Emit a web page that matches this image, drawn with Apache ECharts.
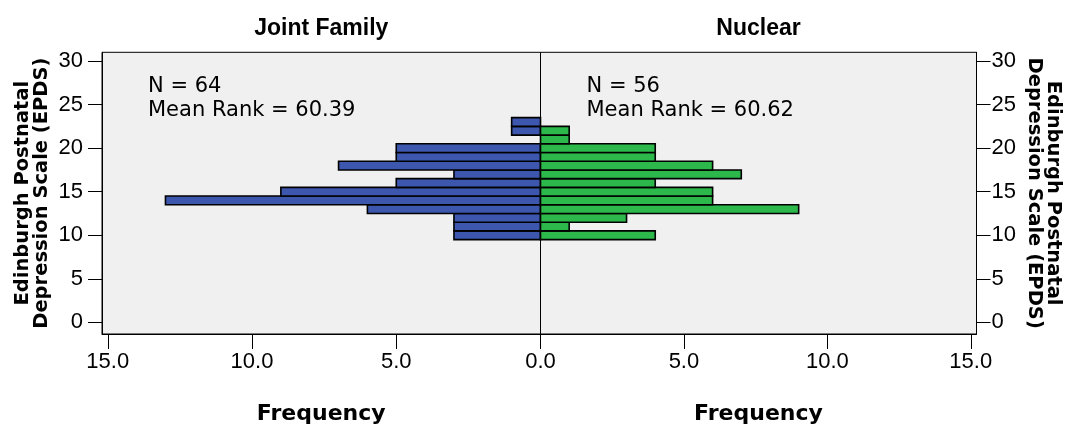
<!DOCTYPE html>
<html>
<head>
<meta charset="utf-8">
<script src="https://cdn.jsdelivr.net/npm/echarts@6/dist/echarts.min.js"></script>
<style>
  html, body { margin: 0; padding: 0; background: #ffffff; }
  #chart { width: 1065px; height: 430px; }
</style>
</head>
<body>
<div id="chart"></div>
<script>
// EPDS score categories (bar centres)
const scores = [10, 11, 12, 13, 14, 15, 16, 17, 18, 19, 20, 21, 22, 23];
// Frequencies per score
const jointFamily = [3, 3, 3, 6, 13, 9, 5, 3, 7, 5, 5, 0, 1, 1];
const nuclear     = [4, 1, 3, 9, 6, 6, 4, 7, 6, 4, 4, 1, 1, 0];
// Tick values
const yTicks = [0, 5, 10, 15, 20, 25, 30];
const xTicksLeft = [0, 5, 10, 15];
const xTicksRight = [5, 10, 15];
const groupTitles = ['Joint Family', 'Nuclear'];
const notesLeft = ['N = 64', 'Mean Rank = 60.39'];
const notesRight = ['N = 56', 'Mean Rank = 60.62'];
const yName = 'Edinburgh Postnatal\nDepression Scale (EPDS)';
const xName = 'Frequency';

const chart = echarts.init(document.getElementById('chart'), null, { renderer: 'canvas' });

const GL = 102, GM = 540.5, GR = 976.5, GT = 52.3, GB = 334.3;

function barRenderer(color) {
  return function (params, api) {
    const c = api.value(0), s = api.value(1);
    if (!c) return null;
    const p0 = api.coord([0, s + 0.5]);
    const p1 = api.coord([c, s - 0.5]);
    return {
      type: 'rect',
      shape: {
        x: Math.min(p0[0], p1[0]),
        y: Math.min(p0[1], p1[1]),
        width: Math.abs(p1[0] - p0[0]),
        height: Math.abs(p1[1] - p0[1])
      },
      style: { fill: color, stroke: '#000', lineWidth: 1.6 }
    };
  };
}

const tickFont = { fontFamily: 'Liberation Sans', fontSize: 22, color: '#000' };
const fmt1 = v => Number(v).toFixed(1);

function xAxisCfg(gridIndex, inverse, ticks) {
  return {
    type: 'value', gridIndex: gridIndex, inverse: inverse, min: 0, max: 15.2,
    position: 'bottom',
    splitLine: { show: false },
    axisLine: { show: true, onZero: false, lineStyle: { color: '#000', width: 1 } },
    axisTick: { show: true, inside: false, length: 15, customValues: ticks, lineStyle: { color: '#000', width: 1 } },
    axisLabel: Object.assign({ margin: 17, customValues: ticks, formatter: fmt1 }, tickFont),
    name: xName, nameLocation: 'middle', nameGap: 80,
    nameTextStyle: { fontFamily: 'DejaVu Sans', fontWeight: 'bold', fontSize: 22, color: '#000', verticalAlign: 'middle' }
  };
}

function yAxisCfg(gridIndex, pos, margin, rot, gap) {
  return {
    type: 'value', gridIndex: gridIndex, position: pos, min: -1.33, max: 31,
    splitLine: { show: false },
    axisLine: { show: true, onZero: false, lineStyle: { color: '#000', width: 1 } },
    axisTick: { show: true, inside: false, length: 14, customValues: yTicks, lineStyle: { color: '#000', width: 1 } },
    axisLabel: Object.assign({ margin: margin, customValues: yTicks }, tickFont),
    name: yName, nameLocation: 'middle', nameGap: gap, nameRotate: rot,
    nameTextStyle: { fontFamily: 'DejaVu Sans', fontWeight: 'bold', fontSize: 19.5, lineHeight: 19, color: '#000', verticalAlign: 'middle', align: 'center' }
  };
}

const option = {
  backgroundColor: '#ffffff',
  animation: false,
  grid: [
    { left: GL, top: GT, width: GM - GL, height: GB - GT, show: true, backgroundColor: '#f0f0f0', borderColor: '#000', borderWidth: 1 },
    { left: GM, top: GT, width: GR - GM, height: GB - GT, show: true, backgroundColor: '#f0f0f0', borderColor: '#000', borderWidth: 1 }
  ],
  xAxis: [
    xAxisCfg(0, true, xTicksLeft),
    xAxisCfg(1, false, xTicksRight)
  ],
  yAxis: [
    yAxisCfg(0, 'left', 19, 90, 70),
    yAxisCfg(1, 'right', 15, -90, 67)
  ],
  series: [
    {
      type: 'custom', name: groupTitles[0], xAxisIndex: 0, yAxisIndex: 0,
      data: scores.map((s, i) => [jointFamily[i], s]),
      encode: { x: 0, y: 1 },
      renderItem: barRenderer('#3c57ad')
    },
    {
      type: 'custom', name: groupTitles[1], xAxisIndex: 1, yAxisIndex: 1,
      data: scores.map((s, i) => [nuclear[i], s]),
      encode: { x: 0, y: 1 },
      renderItem: barRenderer('#2cb84a')
    }
  ],
  graphic: [
    { type: 'text', x: (GL + GM) / 2, y: 29, style: { text: groupTitles[0], fontFamily: 'Liberation Sans', fontWeight: 'bold', fontSize: 23, fill: '#000', align: 'center', verticalAlign: 'middle' } },
    { type: 'text', x: (GM + GR) / 2, y: 29, style: { text: groupTitles[1], fontFamily: 'Liberation Sans', fontWeight: 'bold', fontSize: 23, fill: '#000', align: 'center', verticalAlign: 'middle' } },
    { type: 'text', x: 148, y: 87, style: { text: notesLeft[0], fontFamily: 'DejaVu Sans', fontSize: 21, fill: '#000', align: 'left', verticalAlign: 'middle' } },
    { type: 'text', x: 148, y: 111, style: { text: notesLeft[1], fontFamily: 'DejaVu Sans', fontSize: 21, fill: '#000', align: 'left', verticalAlign: 'middle' } },
    { type: 'text', x: 586.5, y: 87, style: { text: notesRight[0], fontFamily: 'DejaVu Sans', fontSize: 21, fill: '#000', align: 'left', verticalAlign: 'middle' } },
    { type: 'text', x: 586.5, y: 111, style: { text: notesRight[1], fontFamily: 'DejaVu Sans', fontSize: 21, fill: '#000', align: 'left', verticalAlign: 'middle' } }
  ]
};

chart.setOption(option);
</script>
</body>
</html>
